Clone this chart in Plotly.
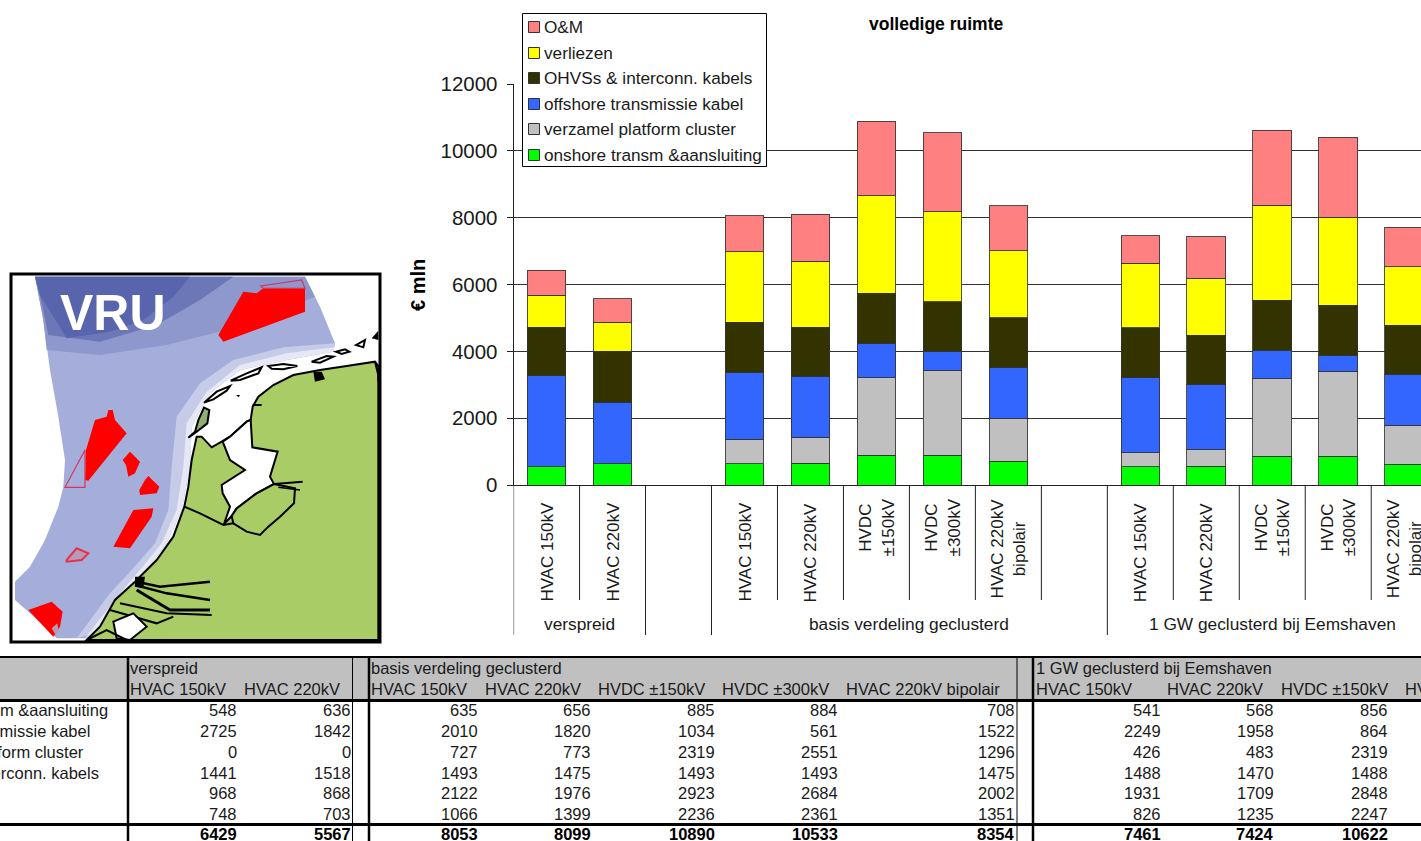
import plotly.graph_objects as go

W, H = 1421, 841

series_names = ["onshore transm &aansluiting", "offshore transmissie kabel", "verzamel platform cluster",
                "OHVSs & interconn. kabels", "verliezen", "O&M"]
series_colors = ["#00FF00", "#3366FF", "#C0C0C0", "#333300", "#FFFF00", "#FF8080"]

group_names = ["verspreid", "basis verdeling geclusterd", "1 GW geclusterd bij Eemshaven"]
onshore = [548, 636, None, 635, 656, 885, 884, 708, None, 541, 568, 856, 856, 625]
cable = [2725, 1842, None, 2010, 1820, 1034, 561, 1522, None, 2249, 1958, 864, 480, 1522]
platform = [0, 0, None, 727, 773, 2319, 2551, 1296, None, 426, 483, 2319, 2551, 1170]
ohvs = [1441, 1518, None, 1493, 1475, 1493, 1493, 1475, None, 1488, 1470, 1488, 1488, 1470]
losses = [968, 868, None, 2122, 1976, 2923, 2684, 2002, None, 1931, 1709, 2848, 2640, 1746]
om = [748, 703, None, 1066, 1399, 2236, 2361, 1351, None, 826, 1235, 2247, 2385, 1180]
totals = [6429, 5567, None, 8053, 8099, 10890, 10533, 8354, None, 7461, 7424, 10622, None, None]
series_values = [onshore, cable, platform, ohvs, losses, om]
stack_order = [0, 2, 1, 3, 4, 5]
legend_order = [5, 4, 3, 1, 2, 0]

tick_labels = ["HVAC 150kV", "HVAC 220kV", "", "HVAC 150kV", "HVAC 220kV", "HVDC<br>±150kV", "HVDC<br>±300kV",
               "HVAC 220kV<br>bipolair", "", "HVAC 150kV", "HVAC 220kV", "HVDC<br>±150kV", "HVDC<br>±300kV",
               "HVAC 220kV<br>bipolair"]
table_headers = ["HVAC 150kV", "HVAC 220kV", "", "HVAC 150kV", "HVAC 220kV", "HVDC ±150kV", "HVDC ±300kV",
                 "HVAC 220kV bipolair", "", "HVAC 150kV", "HVAC 220kV", "HVDC ±150kV", "HVDC ±300kV"]

FONT = "Liberation Sans, Arial, sans-serif"
INK = "#1a1a1a"
X0, SLOT = 513.6, 65.97
TBL = 16.5


def fx(x):
    return x / W


def fy(y):
    return 1 - y / H


fig = go.Figure()
cats = list(range(len(onshore)))
for k in stack_order:
    fig.add_trace(go.Bar(x=cats, y=series_values[k], name=series_names[k], width=0.585, marker_color=series_colors[k],
                         marker_line=dict(color="rgba(50,50,50,0.85)", width=1), showlegend=False))

shapes = []
ann = []


def text(x, y, s, size=16, anchor="left", bold=False, color=INK, angle=0, yanchor="middle", xref="paper", align=None):
    ann.append(dict(x=x if xref != "paper" else fx(x), y=fy(y), xref=xref, yref="paper", text=f"<b>{s}</b>" if bold else s,
                    showarrow=False, xanchor=anchor, yanchor=yanchor, textangle=angle, align=align or "center",
                    font=dict(family=FONT, size=size, color=color), borderpad=0, borderwidth=0))


def rect(x0, y0, x1, y1, fill="rgba(0,0,0,0)", line=None, width=1, layer="above"):
    shapes.append(dict(type="rect", xref="paper", yref="paper", x0=fx(x0), x1=fx(x1), y0=fy(y0), y1=fy(y1),
                       fillcolor=fill, line=dict(color=line or "rgba(0,0,0,0)", width=width if line else 0), layer=layer))


def hline(x0, x1, y, width=1, color="#000"):
    shapes.append(dict(type="line", xref="paper", yref="paper", x0=fx(x0), x1=fx(x1), y0=fy(y), y1=fy(y),
                       line=dict(color=color, width=width), layer="above"))


def vline(x, y0, y1, width=1, color="#000"):
    shapes.append(dict(type="line", xref="paper", yref="paper", x0=fx(x), x1=fx(x), y0=fy(y0), y1=fy(y1),
                       line=dict(color=color, width=width), layer="above"))


# ---- axis separators and category labels
long_seps = {0, 2, 3, 9}
for i in range(0, 14):
    is_long = i in long_seps
    shapes.append(dict(type="line", xref="x", yref="paper", x0=i - 0.5, x1=i - 0.5, y0=fy(485), y1=fy(635 if is_long else 600),
                       line=dict(color="#222", width=1), layer="above"))
for i, lab in enumerate(tick_labels):
    if lab:
        text(i, 498 if "bipolair" in lab or "HVDC" in lab else 502, lab, size=17, anchor="center", angle=-90,
             yanchor="top", xref="x")
text(0.5, 624, group_names[0], size=17.3, anchor="center", xref="x")
text(5.5, 624, group_names[1], size=17.3, anchor="center", xref="x")
text(11, 624, group_names[2], size=17.3, anchor="center", xref="x")

# ---- title + y title
text(936, 24, "volledige ruimte", size=17.5, anchor="center", bold=True, color="#000")
text(418, 285, "€ mln", size=20, anchor="center", bold=True, angle=-90, color="#000")

# ---- manual legend, same order as the reference
rect(522.5, 13.5, 766.5, 166.5, fill="#fff", line="#000", width=1)
leg_y = [27, 53, 78, 104, 129, 155]
for yy, k in zip(leg_y, legend_order):
    rect(528.5, yy - 5.5, 539.5, yy + 5.5, fill=series_colors[k], line="#333", width=1)
    text(544, yy, series_names[k], size=17.2, color=INK)

# ---- table
rect(0, 657, W, 700, fill="#C0C0C0", layer="below")
hline(0, W, 657, 2)
hline(0, W, 700.5, 3)
hline(0, W, 824.5, 3)
for x in (128, 369, 1033):
    vline(x, 657, 841, 2.5)
for x in (352.5, 1017):
    vline(x, 657, 841, 1)
text(130, 668, group_names[0], size=TBL)
text(371, 668, group_names[1], size=TBL)
text(1036, 668, group_names[2], size=TBL)
head_x = [130, 244, None, 371, 485, 598, 722, 846, None, 1036, 1167, 1281, 1405]
right_x = [237, 351, None, 478, 591, 715, 838, 1015, None, 1161, 1274, 1388]
for hx, h in zip(head_x, table_headers):
    if hx is not None:
        text(hx, 689, h, size=TBL)
row_y = [710, 731, 752, 773, 793, 814]
for yy, name, vals in zip(row_y, series_names, series_values):
    text(-101, yy, name, size=TBL)
    for rx, v in zip(right_x, vals):
        if rx is not None:
            text(rx, yy, str(v), size=TBL, anchor="right")
for rx, v in zip(right_x, totals):
    if rx is not None:
        text(rx, 834, str(v), size=TBL, anchor="right", bold=True, color="#000")


# ---- map image, traced as flat shapes (coordinates are 3x crop pixels of the picture)
def poly(points, fill="rgba(0,0,0,0)", line=None, width=1, closed=True):
    d = "M" + "L".join(f"{fx(px / 3):.5f},{fy(260 + py / 3):.5f}" for px, py in points) + ("Z" if closed else "")
    shapes.append(dict(type="path", xref="paper", yref="paper", path=d, fillcolor=fill,
                       line=dict(color=line or "rgba(0,0,0,0)", width=width if line else 0), layer="below"))


rect(11, 274, 380, 642, fill="#fff", line="#000", width=3, layer="below")
sea = [(105, 50), (915, 50), (960, 140), (1005, 250), (1000, 275), (860, 300), (720, 330), (630, 400), (575, 500),
       (570, 620), (545, 750), (500, 850), (440, 930), (400, 970), (340, 1040), (280, 1120), (260, 1135), (170, 1135),
       (90, 1060), (45, 1020), (45, 965), (90, 920), (135, 840), (175, 740), (190, 680), (195, 600), (175, 470),
       (150, 330), (130, 180)]
poly(sea, fill="#A5AEDA")
poly([(140, 270), (300, 285), (500, 255), (700, 205), (945, 110), (915, 50), (105, 50), (130, 180)], fill="#8E98CD")
poly([(145, 225), (300, 245), (470, 195), (600, 120), (700, 50), (105, 50), (125, 130)], fill="#6C77B8")
poly([(120, 105), (200, 235), (330, 215), (430, 180), (520, 110), (570, 50), (105, 50)], fill="#5864AC")
poly([(1005, 250), (850, 262), (700, 300), (600, 370), (530, 470), (515, 620), (505, 750), (465, 850), (400, 925),
      (330, 1000), (230, 1135), (280, 1120), (340, 1040), (400, 970), (440, 930), (500, 850), (545, 750), (570, 620),
      (575, 500), (630, 400), (720, 330), (860, 300), (1000, 275)], fill="#C6CCE8")
poly([(1003, 262), (860, 280), (720, 315), (620, 395), (560, 490), (550, 620), (530, 750), (485, 850), (420, 930),
      (360, 1000), (255, 1135), (280, 1120), (340, 1040), (400, 970), (440, 930), (500, 850), (545, 750), (570, 620),
      (575, 500), (630, 400), (720, 330), (860, 300), (1000, 275)], fill="#E6E9F5")
land = [(1135, 318), (1125, 305), (1040, 318), (960, 330), (880, 345), (820, 375), (775, 410), (758, 440), (752, 480),
        (740, 485), (690, 530), (665, 545), (635, 562), (605, 530), (590, 530), (575, 600), (565, 680), (553, 740),
        (520, 830), (470, 900), (440, 930), (405, 965), (345, 1020), (300, 1100), (260, 1140), (1135, 1140)]
poly(land, fill="#A9CC66", line="#000", width=2)
poly([(752, 480), (757, 562), (833, 575), (810, 650), (822, 672), (770, 700), (710, 745), (695, 768), (672, 792),
      (690, 740), (668, 700), (665, 675), (735, 630), (690, 600), (668, 545), (690, 530), (740, 485)],
     fill="#fff", line="#000", width=2)
poly([(822, 672), (885, 685), (882, 730), (840, 770), (805, 800), (780, 825), (740, 815), (700, 790), (695, 768),
      (710, 745), (770, 700)], fill="#A9CC66", line="#000", width=2)
poly([(553, 740), (600, 760), (670, 795), (700, 790)], line="#000", width=2, closed=False)
poly([(822, 672), (908, 665)], line="#000", width=2, closed=False)
poly([(835, 682), (900, 690)], line="#000", width=1.5, closed=False)
poly([(410, 965), (480, 980), (630, 965)], line="#000", width=2.5, closed=False)
poly([(405, 975), (500, 1000), (630, 1020)], line="#000", width=2.5, closed=False)
poly([(410, 990), (510, 1050), (630, 1050)], line="#000", width=3, closed=False)
poly([(360, 1030), (500, 1060), (635, 1065)], line="#000", width=2, closed=False)
poly([(405, 950), (435, 950), (430, 985), (405, 980)], fill="#000")
poly([(330, 1050), (470, 1090), (520, 1070)], line="#000", width=2, closed=False)
poly([(340, 1085), (400, 1060), (440, 1100), (390, 1140), (350, 1135)], fill="#fff", line="#000", width=2)
poly([(260, 1140), (320, 1110), (380, 1140)], line="#000", width=2, closed=False)
poly([(565, 533), (590, 515), (622, 490), (628, 450), (612, 443), (595, 480), (585, 515)], fill="#8FAE72", line="#000", width=2)
poly([(612, 428), (650, 395), (690, 378), (680, 392), (640, 418)], fill="#fff", line="#000", width=2)
poly([(692, 362), (740, 340), (785, 322), (775, 340), (720, 360)], fill="#fff", line="#000", width=2)
poly([(805, 318), (850, 312), (892, 318), (850, 328), (815, 326)], fill="#fff", line="#000", width=2)
poly([(935, 305), (980, 288), (1000, 290), (960, 308)], fill="#fff", line="#000", width=2)
poly([(1008, 275), (1035, 268), (1048, 275), (1025, 282)], fill="#fff", line="#000", width=2)
poly([(1068, 255), (1095, 240), (1090, 262)], fill="#fff", line="#000", width=2)
poly([(1115, 235), (1135, 212), (1135, 240)], fill="#000")
poly([(940, 335), (965, 335), (975, 358), (945, 365)], fill="#000")
poly([(708, 405), (720, 405), (716, 412)], fill="#000")
poly([(1125, 305), (1135, 345), (1135, 365)], line="#000", width=2, closed=False)
poly([(758, 435), (785, 435)], line="#000", width=2, closed=False)

RED = "#FF0000"
poly([(670, 245), (915, 155), (915, 85), (790, 85), (770, 100), (730, 95), (655, 225)], fill=RED)
poly([(782, 78), (905, 60), (915, 85), (790, 85)], line="#D5345C", width=1.2)
poly([(325, 450), (338, 450), (345, 480), (380, 520), (265, 662), (255, 660), (258, 570), (285, 480), (320, 470)], fill=RED)
poly([(255, 570), (195, 682), (255, 682)], line="#D5345C", width=1.2)
poly([(390, 575), (420, 605), (405, 640), (385, 650), (378, 615), (368, 600)], fill=RED)
poly([(445, 648), (478, 680), (470, 700), (420, 705), (418, 690), (435, 660)], fill=RED)
poly([(400, 750), (460, 745), (455, 770), (390, 865), (340, 860)], fill=RED)
poly([(200, 900), (230, 865), (265, 880), (245, 900), (200, 905)], fill="#B79AB4", line="#E8304E", width=2)
poly([(85, 1050), (155, 1025), (188, 1055), (180, 1100), (160, 1130)], fill=RED)
poly([(155, 1105), (172, 1090), (176, 1112), (165, 1122)], fill="#B79AB4")
text(113, 313, "VRU", size=50, anchor="center", bold=True, color="#fff")

fig.update_layout(
    template="none",
    barmode="stack", width=W, height=H, margin=dict(l=0, r=0, t=0, b=0, pad=0, autoexpand=False), bargap=0.415,
    paper_bgcolor="#fff", plot_bgcolor="#fff", shapes=shapes, annotations=ann,
    font=dict(family=FONT, color=INK), showlegend=False,
    xaxis=dict(domain=[fx(X0), 1], range=[-0.5, (W - X0) / SLOT - 0.5], showticklabels=False, showgrid=False,
               zeroline=False, showline=True, linecolor="#222", linewidth=1, ticks="", automargin=False),
    yaxis=dict(domain=[fy(485), fy(84)], range=[0, 12000], tick0=0, dtick=2000, tickformat="d", gridcolor="#333", gridwidth=1,
               zeroline=False, showline=True, linecolor="#222", linewidth=1, ticks="outside", ticklen=6, tickcolor="#222",
               ticklabelstandoff=5, automargin=False, tickfont=dict(size=20.5, family=FONT, color=INK)),
)
fig.write_html("out.html", config=dict(displayModeBar=False),
               post_script="document.body.style.margin='0';document.body.style.overflow='hidden';")
